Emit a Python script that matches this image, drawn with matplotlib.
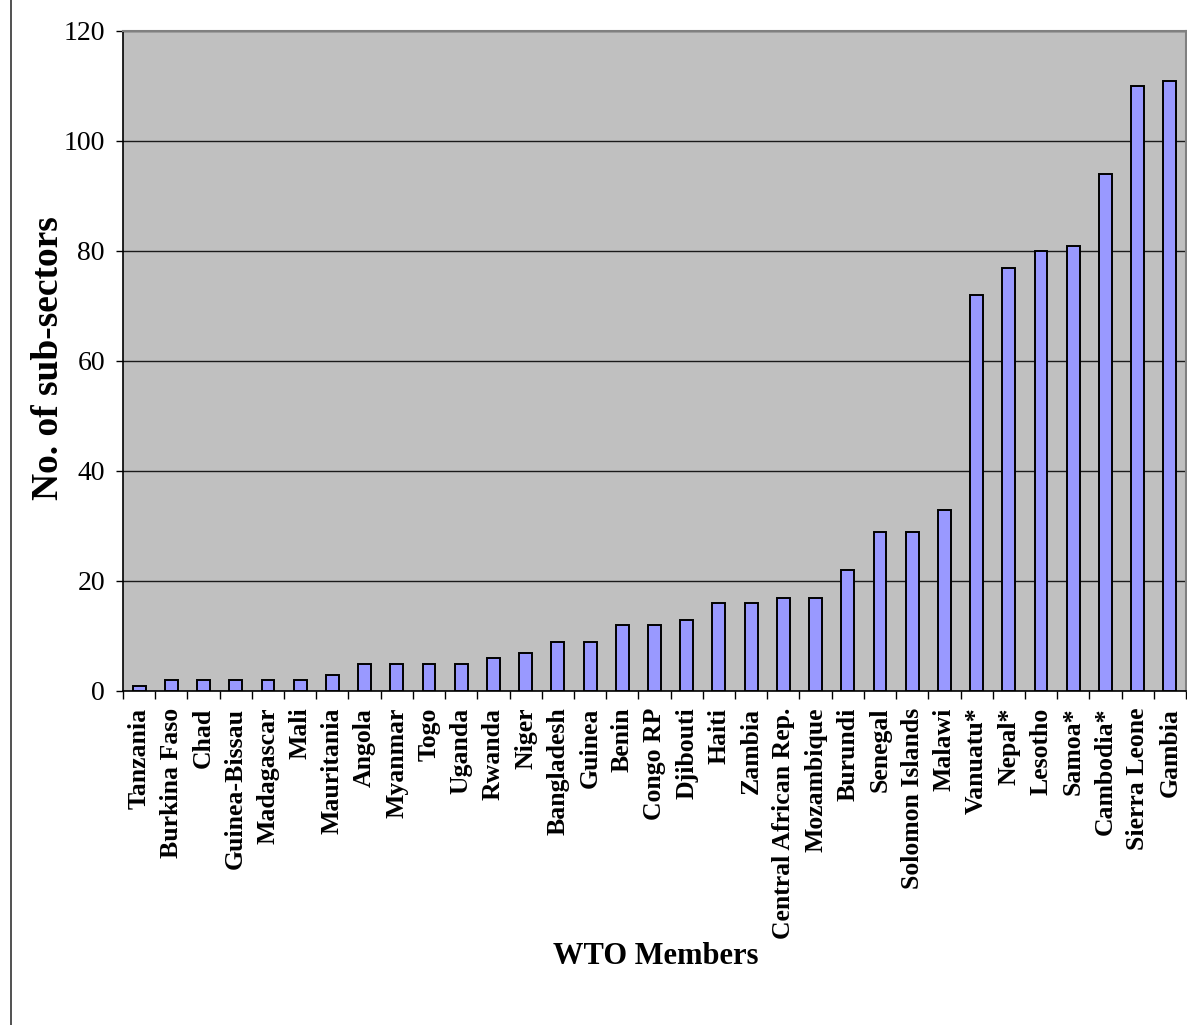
import matplotlib
matplotlib.use("Agg")
import matplotlib.pyplot as plt
from matplotlib.lines import Line2D
import numpy as np

countries = ["Tanzania", "Burkina Faso", "Chad", "Guinea-Bissau", "Madagascar", "Mali",
             "Mauritania", "Angola", "Myanmar", "Togo", "Uganda", "Rwanda", "Niger",
             "Bangladesh", "Guinea", "Benin", "Congo RP", "Djibouti", "Haiti", "Zambia",
             "Central African Rep.", "Mozambique", "Burundi", "Senegal", "Solomon Islands",
             "Malawi", "Vanuatu*", "Nepal*", "Lesotho", "Samoa*", "Cambodia*",
             "Sierra Leone", "Gambia"]
subsectors = [1, 2, 2, 2, 2, 2, 3, 5, 5, 5, 5, 6, 7, 9, 9, 12, 12, 13, 16, 16,
              17, 17, 22, 29, 29, 33, 72, 77, 80, 81, 94, 110, 111]
yticks = [0, 20, 40, 60, 80, 100, 120]

W, H = 1187, 1025
fig = plt.figure(figsize=(W / 100, H / 100), dpi=100)
fig.patch.set_facecolor("white")

ax = fig.add_axes([123 / W, 1 - 691 / H, (1186 - 123) / W, (691 - 31) / H])
ax.set_facecolor("#C0C0C0")

x = np.arange(len(countries))
ax.set_axisbelow(True)
ax.yaxis.grid(True, color="#1a1a1a", linewidth=1.0)
ax.bar(x, subsectors, width=0.40, color="#9999FF", edgecolor="black", linewidth=1.4, zorder=3)

ax.set_xlim(-0.5, len(countries) - 0.5)
ax.set_ylim(0, 120)
ax.set_yticks(yticks)
ax.set_yticklabels([str(v) for v in yticks], family="Liberation Serif", fontsize=20)
ax.tick_params(axis="y", direction="out", length=5, width=1, pad=8, colors="black")

ax.set_xticks(x)
ax.set_xticklabels(countries, rotation=90, family="Liberation Serif", fontweight="bold",
                   fontsize=18.5, va="top", ha="center")
ax.tick_params(axis="x", which="major", length=0, pad=12)
ax.set_xticks(np.arange(-0.5, len(countries), 1.0), minor=True)
ax.tick_params(axis="x", which="minor", direction="out", length=6, width=1, colors="black")

for side in ["left", "bottom"]:
    ax.spines[side].set_color("black")
    ax.spines[side].set_linewidth(1.2)
for side in ["top", "right"]:
    ax.spines[side].set_color("#808080")
    ax.spines[side].set_linewidth(1.5)

ax.set_ylabel("No. of sub-sectors", family="Liberation Serif", fontweight="bold", fontsize=27)
ax.yaxis.set_label_coords(-0.054, 0.505)

fig.text(656 / W, 1 - 957 / H, "WTO Members", family="Liberation Serif", fontweight="bold",
         fontsize=22, ha="center", va="center")

fig.add_artist(Line2D([10.5 / W, 10.5 / W], [0, 1], transform=fig.transFigure,
                      color="#333333", linewidth=1.2))

fig.savefig("out.png", dpi=100, facecolor="white")
